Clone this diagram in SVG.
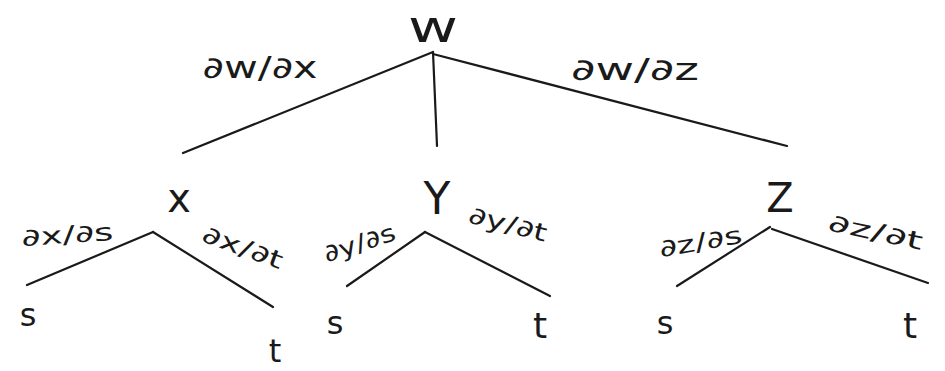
<svg xmlns="http://www.w3.org/2000/svg" width="945" height="371" viewBox="0 0 945 371">
<style>
.n{font-family:"DejaVu Sans",sans-serif;fill:#1a1a1a;text-anchor:middle}
.l{font-family:"DejaVu Sans",sans-serif;fill:#1a1a1a;text-anchor:middle;font-size:30px}
.s{font-family:"DejaVu Sans",sans-serif;fill:#1a1a1a;text-anchor:middle;font-size:24px}
.e{stroke:#1a1a1a;stroke-width:2.2;fill:none;stroke-linecap:round}
</style>
<rect width="945" height="371" fill="#ffffff"/>
<g id="connectors">
<line class="e" x1="433" y1="52" x2="183" y2="153"/>
<line class="e" x1="433" y1="52" x2="437" y2="146"/>
<line class="e" x1="433" y1="54" x2="787" y2="146"/>
<line class="e" x1="153" y1="232" x2="27" y2="285"/>
<line class="e" x1="153" y1="232" x2="273" y2="307"/>
<line class="e" x1="425" y1="232" x2="347" y2="286"/>
<line class="e" x1="425" y1="232" x2="550" y2="296"/>
<line class="e" x1="770" y1="227" x2="677" y2="286"/>
<line class="e" x1="772" y1="229" x2="928" y2="283"/>
</g>
<g id="edge-labels">
<text class="l" x="260" y="78" textLength="115" lengthAdjust="spacingAndGlyphs">∂w/∂x</text>
<text class="l" x="635" y="80" textLength="128" lengthAdjust="spacingAndGlyphs">∂w/∂z</text>
<text class="s" x="68" y="243" textLength="92" lengthAdjust="spacingAndGlyphs" transform="rotate(-4 68 243)">∂x/∂s</text>
<text class="s" x="240" y="255" textLength="84" lengthAdjust="spacingAndGlyphs" transform="rotate(20 240 255)">∂x/∂t</text>
<text class="s" x="362" y="251" textLength="74" lengthAdjust="spacingAndGlyphs" transform="rotate(-18 362 251)">∂y/∂s</text>
<text class="s" x="506" y="232" textLength="80" lengthAdjust="spacingAndGlyphs" transform="rotate(14 506 232)">∂y/∂t</text>
<text class="s" x="702" y="250" textLength="84" lengthAdjust="spacingAndGlyphs" transform="rotate(-10 702 250)">∂z/∂s</text>
<text class="s" x="874" y="240" textLength="96" lengthAdjust="spacingAndGlyphs" transform="rotate(12 874 240)">∂z/∂t</text>
</g>
<g id="node-w"><text class="n" x="433" y="42" font-size="44" textLength="50" lengthAdjust="spacingAndGlyphs">w</text></g>
<g id="node-x"><text class="n" x="179" y="212" font-size="40">x</text></g>
<g id="node-y"><text class="n" x="437" y="214" font-size="44">Y</text></g>
<g id="node-z"><text class="n" x="780" y="212" font-size="40">Z</text></g>
<g id="node-xs"><text class="n" x="28" y="326" font-size="32">s</text></g>
<g id="node-xt"><text class="n" x="275" y="362" font-size="32">t</text></g>
<g id="node-ys"><text class="n" x="335" y="334" font-size="32">s</text></g>
<g id="node-yt"><text class="n" x="540" y="338" font-size="36">t</text></g>
<g id="node-zs"><text class="n" x="665" y="334" font-size="32">s</text></g>
<g id="node-zt"><text class="n" x="910" y="338" font-size="36">t</text></g>
</svg>
